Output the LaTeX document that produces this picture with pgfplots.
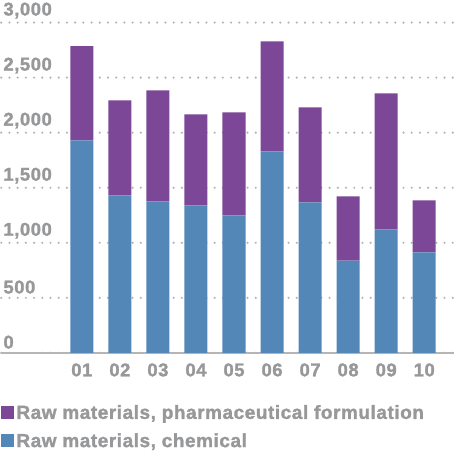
\documentclass[border=0pt]{standalone}
\usepackage{fontspec}
\setmainfont{Liberation Sans}
\newfontfamily\heavy{Liberation Sans Bold}[FakeBold=1.6, LetterSpace=3]
\usepackage{pgfplots}
\pgfplotsset{compat=1.18}
\definecolor{chem}{HTML}{5287B8}
\definecolor{pharma}{HTML}{7D4797}
\definecolor{txt}{HTML}{97989A}
\definecolor{grd}{HTML}{B5B5B5}
\begin{document}
\begin{tikzpicture}
\begin{axis}[
  at={(0,102.5bp)}, anchor=south west,
  scale only axis, width=452bp, height=352.5bp,
  xmin=-1.118, xmax=10.776, ymin=0, ymax=3205,
  ybar stacked, bar width=0.605,
  axis lines*=left, axis line style={-},
  y axis line style={draw=none},
  x axis line style={draw=grd, line width=2.5bp},
  major tick length=0pt,
  xtick={1,...,10},
  xticklabels={01,02,03,04,05,06,07,08,09,10},
  ytick={0,500,1000,1500,2000,2500,3000},
  yticklabels={0,500,{1,000},{1,500},{2,000},{2,500},{3,000}},
  ymajorgrids,
  major grid style={draw=grd, line width=2.4bp, line cap=round, dash pattern=on 0pt off 8.2bp},
  ticklabel style={font=\heavy\fontsize{18.5}{18.5}\selectfont, text=txt},
  yticklabel style={anchor=south west, xshift=1bp, yshift=3bp, inner sep=1bp},
  xticklabel style={yshift=-7bp},
  legend style={at={(0,0)}, anchor=north west, yshift=-50bp, draw=none, fill=none,
    inner sep=0pt, row sep=9bp, font=\heavy\fontsize{19}{19}\selectfont, text=txt,
    legend cell align=left},
  legend image code/.code={\fill[#1] (0bp,-6.5bp) rectangle (13bp,6.5bp);},
  reverse legend,
]
\addplot[fill=chem, draw=none] coordinates {
  (1,1930) (2,1430) (3,1375) (4,1339) (5,1248)
  (6,1830) (7,1366) (8,839) (9,1121) (10,912)};
\addlegendentry{Raw materials, chemical}
\addplot[fill=pharma, draw=none] coordinates {
  (1,855) (2,864) (3,1010) (4,827) (5,937)
  (6,1000) (7,864) (8,582) (9,1236) (10,473)};
\addlegendentry{Raw materials, pharmaceutical formulation}
\end{axis}
\end{tikzpicture}
\end{document}
